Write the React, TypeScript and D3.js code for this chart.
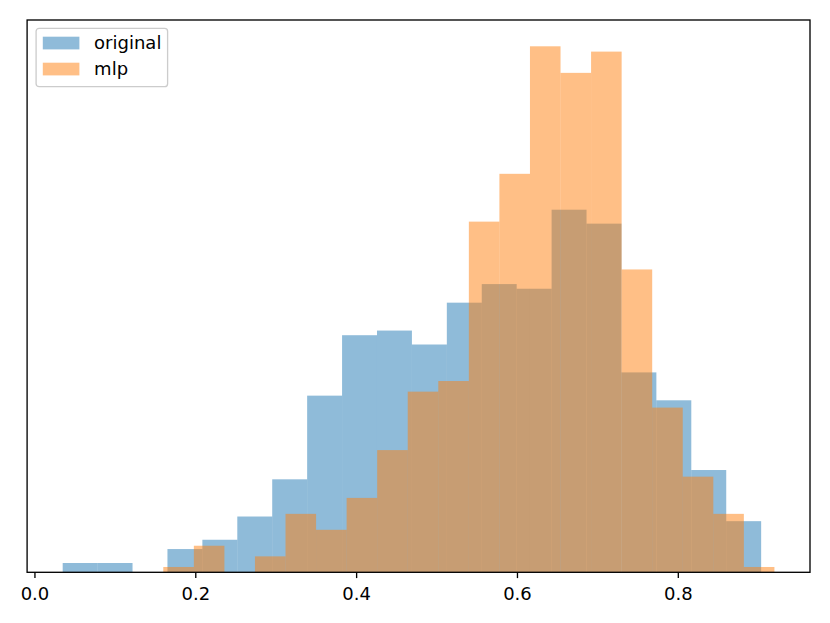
// React
import { useEffect } from 'react';

// Installed Packages
import * as d3 from 'd3';

// Histogram counts, 20 bins each (density=True, N = 685)
const originalRange = [0.0345, 0.903];
const originalCounts = [2, 2, 0, 5, 7, 12, 20, 38, 51, 52, 49, 58, 62, 61, 78, 75, 43, 37, 22, 11];

const mlpRange = [0.1596, 0.9195];
const mlpCounts = [1, 5, 0, 3, 11, 8, 14, 23, 34, 36, 66, 75, 99, 94, 98, 57, 31, 18, 11, 1];

const seriesNames = ['original', 'mlp'];
const seriesColors = ['#1f77b4', '#ff7f0e'];
const xTicks = [0.0, 0.2, 0.4, 0.6, 0.8];

type Bin = { x0: number, x1: number, density: number };

function toBins(range: number[], counts: number[]): Bin[] {
    const n = counts.length;
    const w = (range[1] - range[0]) / n;
    const total = d3.sum(counts);
    return counts.map((c, i) => ({
        x0: range[0] + i * w,
        x1: range[0] + (i + 1) * w,
        density: c / (total * w)
    }));
}

export default function App() {

    useEffect(() => {
        document.body.style.margin = '0';
    }, []);

    const width = 830, height = 623;
    const margin = { top: 20, right: 20, bottom: 50.7, left: 27.1 };
    const plotW = width - margin.left - margin.right;
    const plotH = height - margin.top - margin.bottom;

    const series = [toBins(originalRange, originalCounts), toBins(mlpRange, mlpCounts)];

    // matplotlib style 5% margins on x, 5% headroom on y
    const dataMin = Math.min(originalRange[0], mlpRange[0]);
    const dataMax = Math.max(originalRange[1], mlpRange[1]);
    const pad = (dataMax - dataMin) * 0.05;
    const x = d3.scaleLinear().domain([dataMin - pad, dataMax + pad]).range([0, plotW]);
    const yMax = d3.max(series.flat(), d => d.density)! * 1.05;
    const y = d3.scaleLinear().domain([0, yMax]).range([plotH, 0]);

    const font = '"DejaVu Sans", sans-serif';
    const fontSize = 18;

    return (
        <svg width={width} height={height} style={{ display: 'block', background: '#fff' }} fontFamily={font}>
            <g transform={`translate(${margin.left}, ${margin.top})`}>
                {series.map((bins, si) => (
                    <g key={si} fill={seriesColors[si]} fillOpacity={0.5}>
                        {bins.filter(b => b.density > 0).map((b, i) => (
                            <rect key={i}
                                x={x(b.x0)}
                                y={y(b.density)}
                                width={x(b.x1) - x(b.x0)}
                                height={plotH - y(b.density)} />
                        ))}
                    </g>
                ))}

                {/* Frame */}
                <rect x={0} y={0} width={plotW} height={plotH} fill="none" stroke="#000" strokeWidth={1.33} />

                {/* Bottom axis */}
                {xTicks.map(t => (
                    <g key={t} transform={`translate(${x(t)}, ${plotH})`}>
                        <line y1={0} y2={5.8} stroke="#000" strokeWidth={1.33} />
                        <text y={27.3} textAnchor="middle" fontSize={fontSize} fill="#000">{t.toFixed(1)}</text>
                    </g>
                ))}

                {/* Legend */}
                <g transform="translate(9, 8.3)">
                    <rect x={0} y={0} width={131.5} height={58.4} rx={3} ry={3}
                        fill="#fff" fillOpacity={0.8} stroke="#cccccc" strokeWidth={1.33} />
                    {seriesNames.map((name, i) => (
                        <g key={name} transform={`translate(0, ${i * 26})`}>
                            <rect x={6.7} y={8.4} width={36.6} height={12.7}
                                fill={seriesColors[i]} fillOpacity={0.5} />
                            <text x={58} y={21} fontSize={fontSize} fill="#000">{name}</text>
                        </g>
                    ))}
                </g>
            </g>
        </svg>
    );
}
